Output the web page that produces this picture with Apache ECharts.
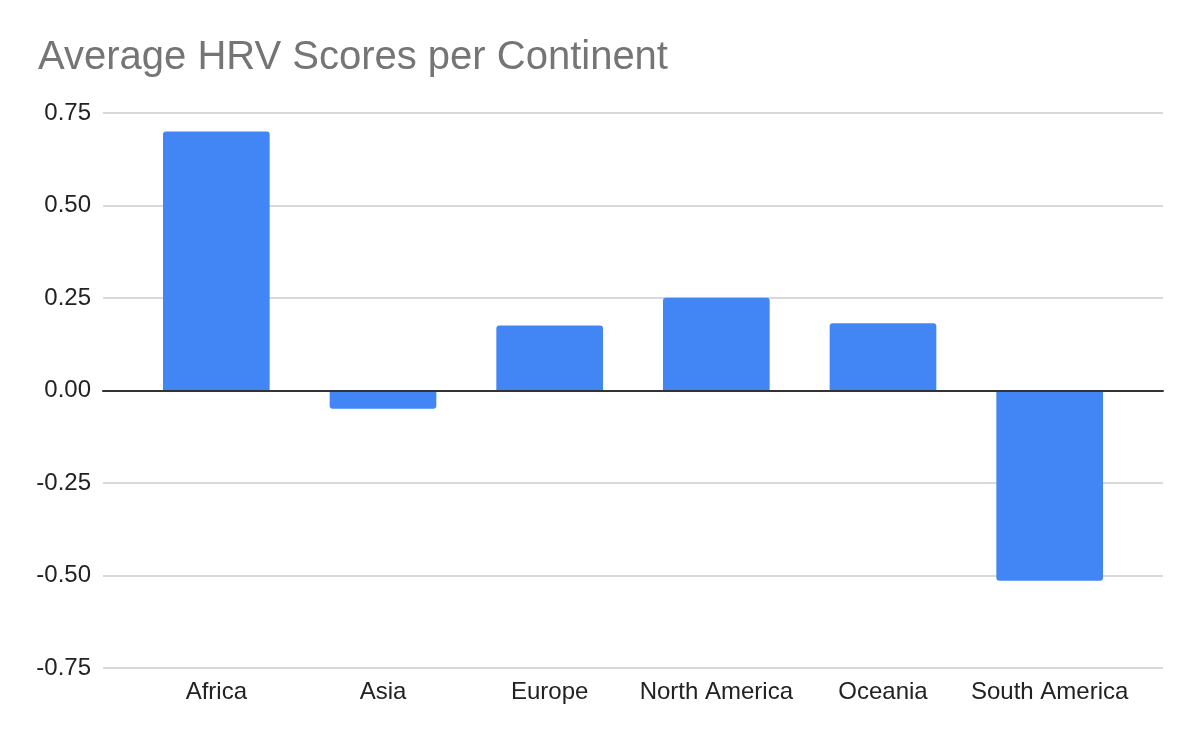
<!DOCTYPE html>
<html>
<head>
<meta charset="utf-8">
<script src="https://cdn.jsdelivr.net/npm/echarts@6/dist/echarts.min.js"></script>
<style>html,body{margin:0;padding:0;background:#fff}#c{width:1200px;height:742px}</style>
</head>
<body>
<div id="c"></div>
<script>
const titleText = 'Average HRV Scores per Continent';
const continents = ['Africa', 'Asia', 'Europe', 'North America', 'Oceania', 'South America'];
const hrvScores = [0.70, -0.049, 0.176, 0.251, 0.182, -0.514];
const yMin = -0.75, yMax = 0.75, yStep = 0.25;

const chart = echarts.init(document.getElementById('c'), null, {renderer: 'canvas'});
const font = '"Liberation Sans", Arial, sans-serif';
chart.setOption({
  animation: false,
  backgroundColor: '#fff',
  title: {
    text: titleText,
    left: 33, top: 33,
    textStyle: {fontFamily: font, fontSize: 40, fontWeight: 'normal', color: '#757575'}
  },
  grid: [
    {left: 103, right: 37, top: 113, bottom: 74, containLabel: false},
    {left: 133, right: 67, top: 113, bottom: 74, containLabel: false}
  ],
  xAxis: [{
    gridIndex: 0,
    type: 'category',
    data: continents,
    axisLine: {onZero: true, lineStyle: {color: '#333', width: 2}},
    axisTick: {show: false},
    axisLabel: {show: false},
    z: 5
  }, {
    gridIndex: 1,
    type: 'category',
    data: continents,
    axisLine: {show: false},
    axisTick: {show: false},
    axisLabel: {interval: 0, fontFamily: font, fontSize: 24, color: '#222', margin: 12}
  }],
  yAxis: [{
    gridIndex: 0,
    type: 'value',
    min: yMin, max: yMax, interval: yStep,
    axisLine: {show: false},
    axisTick: {show: false},
    splitLine: {lineStyle: {color: '#cccccc', width: 1.5}},
    axisLabel: {fontFamily: font, fontSize: 24, color: '#222', margin: 12,
      formatter: v => v.toFixed(2)}
  }, {
    gridIndex: 1,
    type: 'value',
    min: yMin, max: yMax, interval: yStep,
    axisLine: {show: false},
    axisTick: {show: false},
    splitLine: {show: false},
    axisLabel: {show: false}
  }],
  series: [{
    type: 'bar',
    xAxisIndex: 1, yAxisIndex: 1,
    barCategoryGap: '36%',
    z: 2,
    data: hrvScores.map(v => ({
      value: v,
      itemStyle: {color: '#4285F4', borderRadius: v >= 0 ? [3, 3, 0, 0] : [0, 0, 3, 3]}
    }))
  }]
});
</script>
</body>
</html>
